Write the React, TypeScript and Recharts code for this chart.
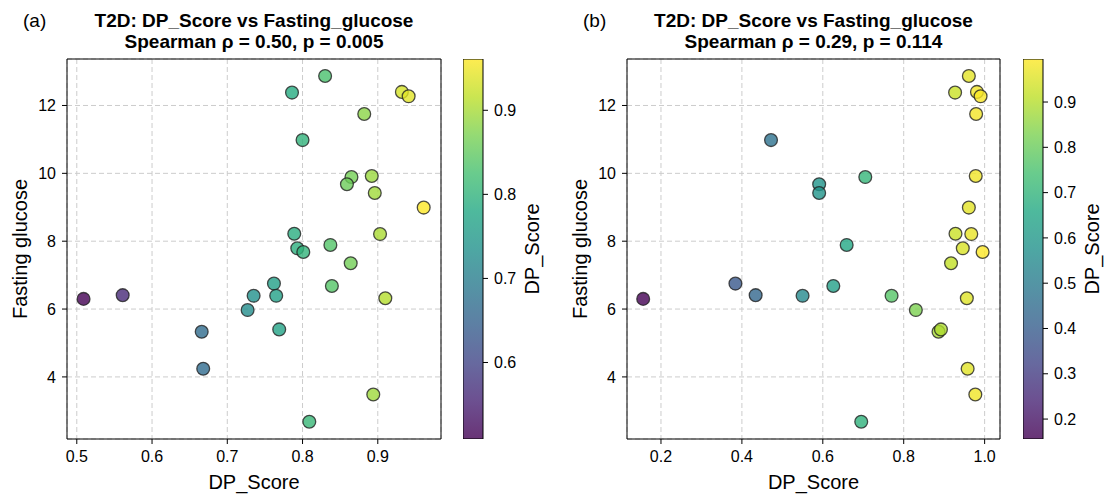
import React from 'react';
import {
  ScatterChart,
  Scatter,
  BarChart,
  Bar,
  XAxis,
  YAxis,
  CartesianGrid,
  ReferenceArea,
} from 'recharts';

// Fasting glucose, one value per subject (same subjects in both panels)
const fastingGlucose = [
  12.87, 12.38, 12.4, 12.27, 11.75, 10.98, 9.89, 9.92, 9.68, 9.42,
  8.99, 8.22, 8.21, 7.89, 7.79, 7.68, 7.35, 6.75, 6.68, 6.39,
  6.39, 6.41, 6.3, 6.32, 5.97, 5.33, 5.4, 4.24, 3.48, 2.68,
];

// DP_Score, panel (a)
const dpScoreA = [
  0.83, 0.786, 0.932, 0.941, 0.882, 0.8, 0.865, 0.892, 0.859, 0.896,
  0.961, 0.789, 0.903, 0.837, 0.793, 0.801, 0.864, 0.762, 0.839, 0.735,
  0.765, 0.561, 0.509, 0.91, 0.727, 0.666, 0.769, 0.668, 0.894, 0.809,
];

// DP_Score, panel (b)
const dpScoreB = [
  0.961, 0.927, 0.981, 0.99, 0.979, 0.472, 0.705, 0.978, 0.591, 0.591,
  0.961, 0.928, 0.967, 0.659, 0.946, 0.995, 0.917, 0.384, 0.626, 0.55,
  0.77, 0.434, 0.156, 0.956, 0.83, 0.886, 0.892, 0.958, 0.977, 0.695,
];

const glucoseTicks = [4, 6, 8, 10, 12];
const xTicksA = [0.5, 0.6, 0.7, 0.8, 0.9];
const xTicksB = [0.2, 0.4, 0.6, 0.8, 1.0];
const cbarTicksA = [0.6, 0.7, 0.8, 0.9];
const cbarTicksB = [0.2, 0.3, 0.4, 0.5, 0.6, 0.7, 0.8, 0.9];

const titlesA = ['T2D: DP_Score vs Fasting_glucose', 'Spearman ρ = 0.50, p = 0.005'];
const titlesB = ['T2D: DP_Score vs Fasting_glucose', 'Spearman ρ = 0.29, p = 0.114'];

// viridis colormap anchors
const VIRIDIS = [
  '#440154', '#482475', '#414487', '#355f8d', '#2a788e', '#21918c',
  '#22a884', '#44bf70', '#7ad151', '#bddf26', '#fde725',
];

const hexToRgb = (h: string) => [
  parseInt(h.slice(1, 3), 16),
  parseInt(h.slice(3, 5), 16),
  parseInt(h.slice(5, 7), 16),
];

const viridis = (t: number) => {
  const v = Math.max(0, Math.min(1, t)) * (VIRIDIS.length - 1);
  const i = Math.min(Math.floor(v), VIRIDIS.length - 2);
  const f = v - i;
  const a = hexToRgb(VIRIDIS[i]);
  const b = hexToRgb(VIRIDIS[i + 1]);
  const c = a.map((ch, k) => Math.round(ch + (b[k] - ch) * f));
  return `rgb(${c[0]},${c[1]},${c[2]})`;
};

const FONT = '"Liberation Sans", Arial, sans-serif';
const Y_DOMAIN: [number, number] = [2.17, 13.37];
const PLOT_TOP = 59;
const PLOT_BOTTOM = 439;
const H = 495;

const Dot = (props: any) => {
  const { cx, cy, payload } = props;
  if (cx == null || cy == null) return null;
  return (
    <circle
      cx={cx}
      cy={cy}
      r={6.4}
      fill={payload.color}
      fillOpacity={0.8}
      stroke="#222"
      strokeOpacity={0.8}
      strokeWidth={1.3}
    />
  );
};

const tickStyle = { fontSize: 16, fill: '#000', fontFamily: FONT };

interface PanelProps {
  tag: string;
  titles: string[];
  xs: number[];
  xDomain: [number, number];
  xTicks: number[];
  cbarTicks: number[];
  left: number; // page x where the panel's chart starts
  plotRight: number;
  cbarLeft: number;
}

const Panel: React.FC<PanelProps> = ({
  tag, titles, xs, xDomain, xTicks, cbarTicks, left, plotRight, cbarLeft,
}) => {
  const lo = Math.min(...xs);
  const hi = Math.max(...xs);
  const data = xs.map((x, i) => ({
    x,
    y: fastingGlucose[i],
    color: viridis((x - lo) / (hi - lo)),
  }));
  const cbarData = [{ name: 'cbar', range: [lo, hi] }];
  const plotLeft = left + 67;
  const width = plotRight - left + 10;
  const center = (plotLeft + plotRight) / 2;
  const gradId = `cbar-${tag}`;

  return (
    <>
      <ScatterChart
        width={width}
        height={H}
        margin={{ top: PLOT_TOP, right: 10, bottom: 26, left: 7 }}
        style={{ position: 'absolute', left, top: 0 }}
      >
        <CartesianGrid stroke="#cccccc" strokeDasharray="5 3" />
        <XAxis
          type="number"
          dataKey="x"
          domain={xDomain}
          ticks={xTicks}
          tickFormatter={(v: number) => v.toFixed(1)}
          allowDataOverflow
          axisLine={false}
          tickLine={{ stroke: '#000' }}
          tickSize={5}
          tickMargin={7}
          height={30}
          tick={tickStyle}
        />
        <YAxis
          type="number"
          dataKey="y"
          domain={Y_DOMAIN}
          ticks={glucoseTicks}
          allowDataOverflow
          axisLine={false}
          tickLine={{ stroke: '#000' }}
          tickSize={5}
          tickMargin={6}
          width={60}
          tick={tickStyle}
        />
        <Scatter data={data} shape={Dot} isAnimationActive={false} />
        <ReferenceArea
          x1={xDomain[0]}
          x2={xDomain[1]}
          y1={Y_DOMAIN[0]}
          y2={Y_DOMAIN[1]}
          fill="none"
          stroke="#000"
          strokeWidth={1}
          ifOverflow="visible"
        />
      </ScatterChart>

      {/* colorbar: one range bar from min to max DP_Score */}
      <BarChart
        width={100}
        height={H}
        data={cbarData}
        barCategoryGap={0}
        margin={{ top: PLOT_TOP, right: 20, bottom: H - PLOT_BOTTOM, left: 0 }}
        style={{ position: 'absolute', left: cbarLeft, top: 0 }}
      >
        <defs>
          <linearGradient id={gradId} x1="0" y1="1" x2="0" y2="0">
            {VIRIDIS.map((c, i) => (
              <stop key={i} offset={`${(i / (VIRIDIS.length - 1)) * 100}%`} stopColor={c} stopOpacity={0.8} />
            ))}
          </linearGradient>
        </defs>
        <XAxis dataKey="name" hide />
        <YAxis
          type="number"
          orientation="right"
          domain={[lo, hi]}
          ticks={cbarTicks}
          tickFormatter={(v: number) => v.toFixed(1)}
          allowDataOverflow
          axisLine={false}
          tickLine={{ stroke: '#000' }}
          tickSize={5}
          tickMargin={6}
          width={60}
          tick={tickStyle}
        />
        <Bar
          dataKey="range"
          fill={`url(#${gradId})`}
          stroke="#000"
          strokeWidth={1}
          isAnimationActive={false}
        />
      </BarChart>

      {/* texts */}
      <div style={{ position: 'absolute', left: left + 23, top: 10, fontSize: 19, lineHeight: '21px' }}>({tag})</div>
      <div
        style={{
          position: 'absolute', left: center, top: 10, transform: 'translateX(-50%)',
          fontSize: 19, fontWeight: 'bold', lineHeight: '21px', textAlign: 'center', whiteSpace: 'nowrap',
        }}
      >
        {titles.map((t) => (
          <div key={t}>{t}</div>
        ))}
      </div>
      <div
        style={{
          position: 'absolute', left: center, top: 482, transform: 'translate(-50%, -50%)',
          fontSize: 20, whiteSpace: 'nowrap',
        }}
      >
        DP_Score
      </div>
      <div
        style={{
          position: 'absolute', left: plotLeft - 47, top: 249, transform: 'translate(-50%, -50%) rotate(-90deg)',
          fontSize: 20, whiteSpace: 'nowrap',
        }}
      >
        Fasting glucose
      </div>
      <div
        style={{
          position: 'absolute', left: cbarLeft + 69, top: 249, transform: 'translate(-50%, -50%) rotate(-90deg)',
          fontSize: 20, whiteSpace: 'nowrap',
        }}
      >
        DP_Score
      </div>
    </>
  );
};

export default function App() {
  return (
    <div
      style={{
        position: 'absolute', left: 0, top: 0, width: 1108, height: H,
        background: '#fff', fontFamily: FONT, color: '#000', overflow: 'hidden',
      }}
    >
      <Panel
        tag="a"
        titles={titlesA}
        xs={dpScoreA}
        xDomain={[0.487, 0.984]}
        xTicks={xTicksA}
        cbarTicks={cbarTicksA}
        left={0}
        plotRight={441}
        cbarLeft={463}
      />
      <Panel
        tag="b"
        titles={titlesB}
        xs={dpScoreB}
        xDomain={[0.116, 1.038]}
        xTicks={xTicksB}
        cbarTicks={cbarTicksB}
        left={560}
        plotRight={1000}
        cbarLeft={1023}
      />
    </div>
  );
}
